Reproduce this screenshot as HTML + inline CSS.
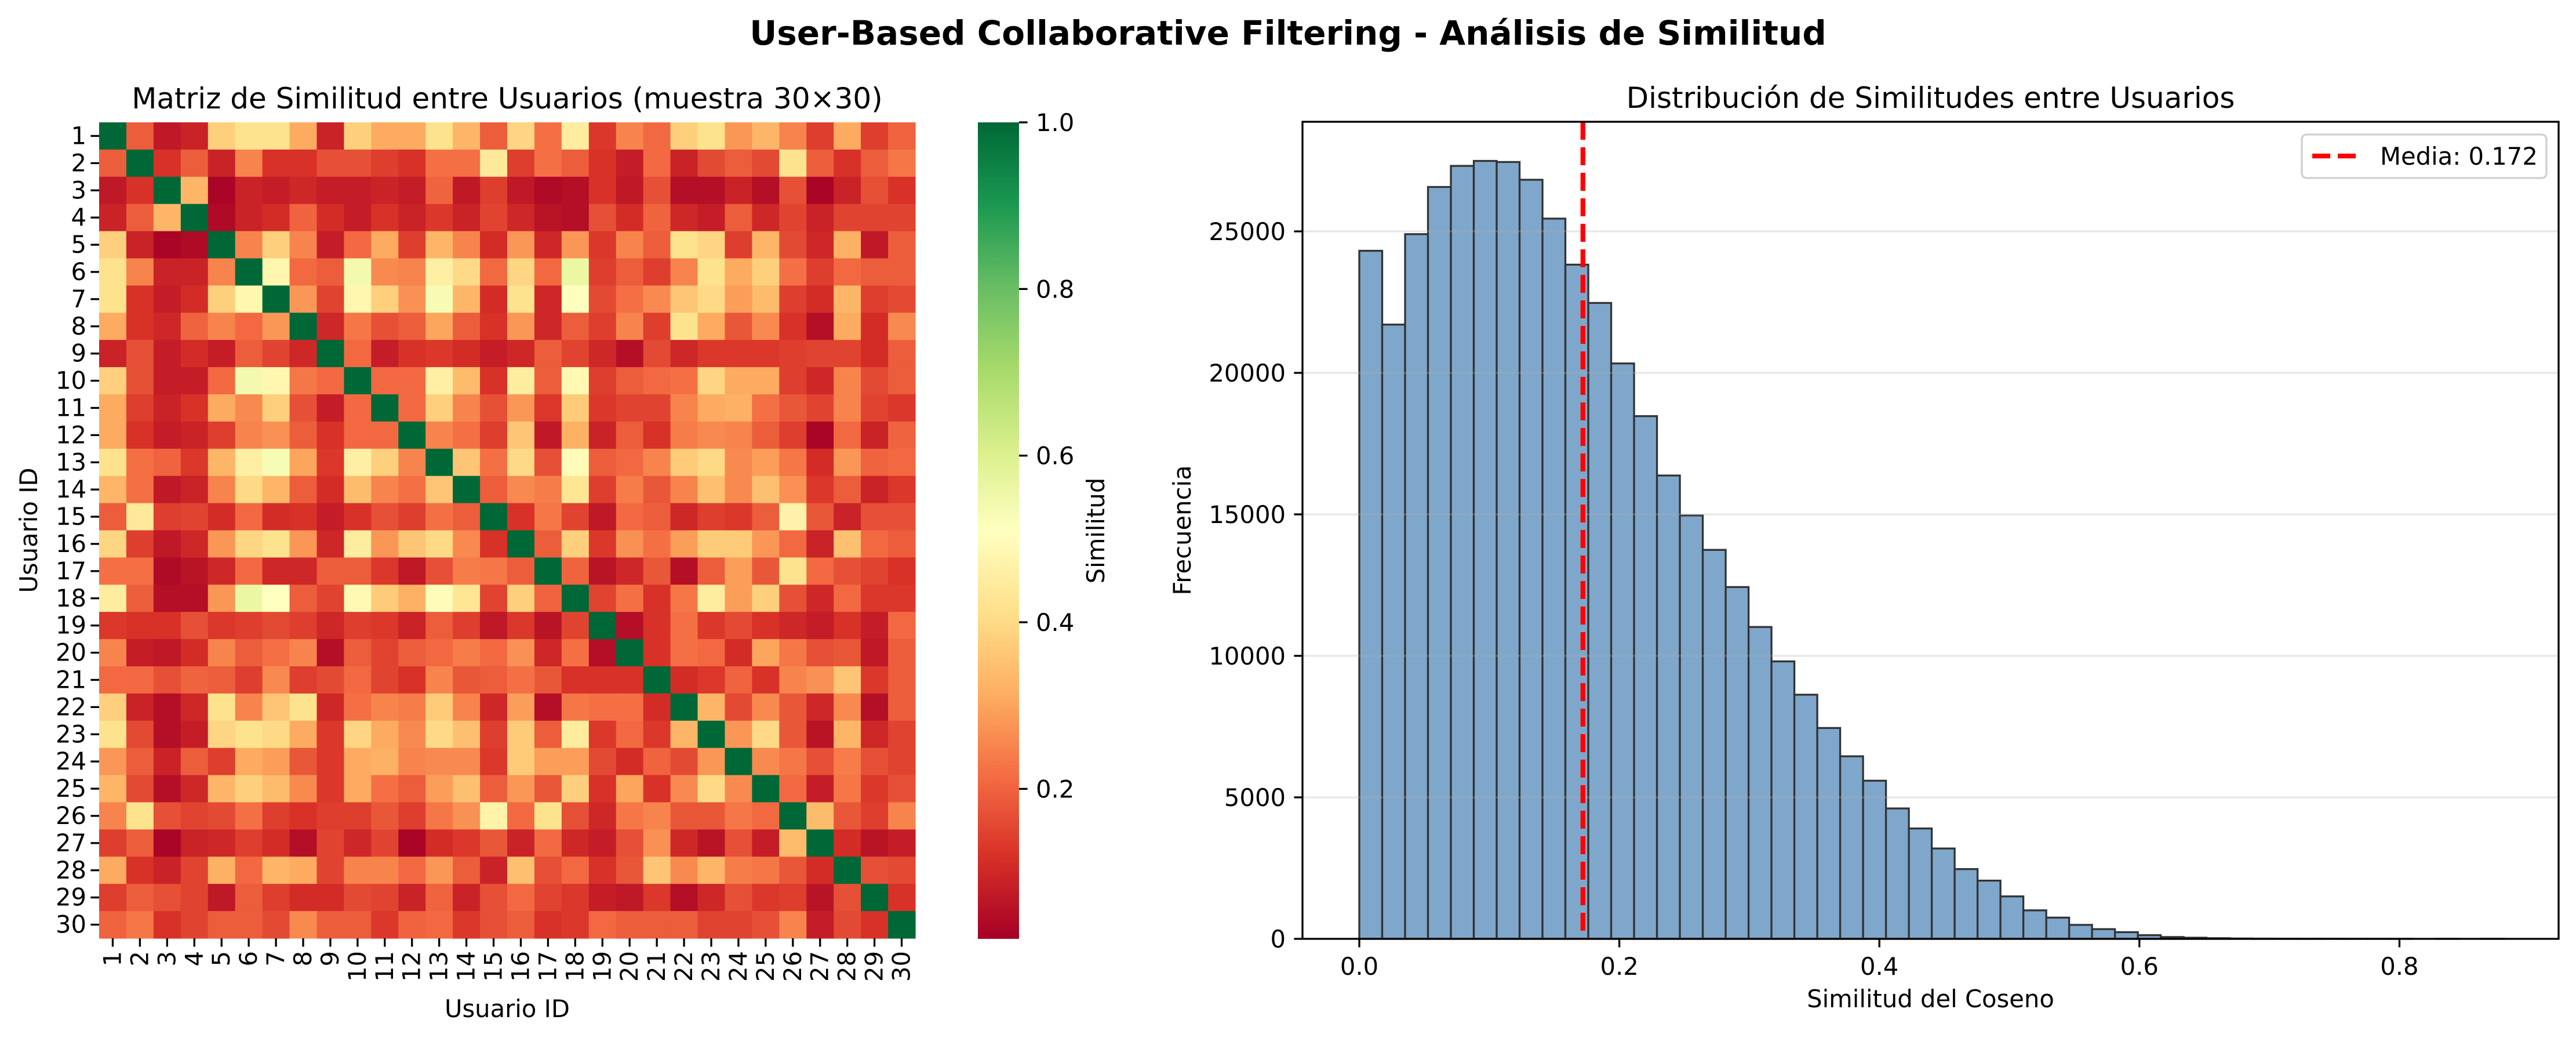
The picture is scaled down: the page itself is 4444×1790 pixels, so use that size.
<!DOCTYPE html>
<html><head><meta charset="utf-8"><style>
html,body{margin:0;padding:0;background:#fff;}
svg{display:block;font-family:"DejaVu Sans","Liberation Sans",sans-serif;}
</style></head><body>
<svg id="fig" width="4444" height="1790" viewBox="0 0 4444 1790" xmlns="http://www.w3.org/2000/svg">
<rect width="4444" height="1790" fill="#fff"/>
<text x="2222" y="77" text-anchor="middle" font-size="58" font-weight="bold">User-Based Collaborative Filtering - Análisis de Similitud</text>
<g id="heat"></g>
<g id="cbar"></g>
<g id="hist"></g>
</svg>
<script>
// ---------- Heatmap data (upper triangle, row i: columns i+1..30) ----------
const userLabels = ["1","2","3","4","5","6","7","8","9","10","11","12","13","14","15","16","17","18","19","20","21","22","23","24","25","26","27","28","29","30"];
const upper = [
[0.19,0.07,0.09,0.38,0.42,0.42,0.31,0.09,0.38,0.31,0.31,0.42,0.33,0.19,0.39,0.22,0.45,0.13,0.25,0.21,0.38,0.42,0.28,0.33,0.25,0.14,0.31,0.14,0.2],
[0.12,0.19,0.09,0.25,0.12,0.12,0.17,0.17,0.14,0.12,0.22,0.22,0.44,0.14,0.22,0.19,0.12,0.08,0.21,0.09,0.16,0.19,0.16,0.42,0.19,0.12,0.19,0.23],
[0.33,0.03,0.09,0.08,0.1,0.08,0.08,0.09,0.08,0.2,0.07,0.14,0.07,0.04,0.05,0.12,0.07,0.17,0.05,0.05,0.09,0.05,0.17,0.03,0.09,0.17,0.12],
[0.04,0.09,0.11,0.2,0.11,0.08,0.12,0.09,0.13,0.09,0.15,0.1,0.06,0.05,0.17,0.11,0.2,0.1,0.08,0.19,0.1,0.15,0.09,0.15,0.15,0.15],
[0.25,0.38,0.25,0.08,0.21,0.31,0.14,0.33,0.25,0.11,0.28,0.1,0.28,0.13,0.25,0.19,0.42,0.39,0.14,0.33,0.16,0.1,0.32,0.07,0.19],
[0.48,0.21,0.19,0.54,0.26,0.25,0.46,0.4,0.21,0.39,0.21,0.56,0.14,0.19,0.14,0.25,0.42,0.31,0.38,0.22,0.14,0.21,0.19,0.19],
[0.28,0.15,0.48,0.38,0.27,0.53,0.33,0.11,0.42,0.1,0.51,0.16,0.22,0.26,0.36,0.4,0.29,0.34,0.14,0.11,0.33,0.14,0.16],
[0.1,0.23,0.17,0.19,0.3,0.19,0.12,0.28,0.1,0.19,0.14,0.25,0.14,0.42,0.31,0.18,0.26,0.12,0.05,0.31,0.11,0.26],
[0.21,0.08,0.12,0.13,0.11,0.08,0.1,0.19,0.15,0.1,0.05,0.16,0.1,0.13,0.13,0.13,0.14,0.15,0.15,0.11,0.19],
[0.21,0.21,0.46,0.34,0.12,0.45,0.19,0.49,0.14,0.19,0.21,0.22,0.39,0.31,0.31,0.14,0.1,0.25,0.16,0.19],
[0.21,0.38,0.25,0.17,0.28,0.13,0.37,0.13,0.15,0.15,0.25,0.31,0.32,0.22,0.18,0.15,0.25,0.15,0.13],
[0.25,0.22,0.14,0.36,0.07,0.32,0.09,0.19,0.12,0.24,0.26,0.25,0.19,0.14,0.03,0.21,0.09,0.2],
[0.36,0.22,0.4,0.17,0.5,0.19,0.21,0.25,0.37,0.4,0.26,0.29,0.23,0.11,0.28,0.2,0.21],
[0.19,0.26,0.24,0.43,0.14,0.24,0.18,0.25,0.35,0.26,0.35,0.27,0.13,0.19,0.09,0.13],
[0.12,0.23,0.15,0.07,0.21,0.19,0.1,0.14,0.13,0.19,0.47,0.18,0.09,0.17,0.17],
[0.19,0.38,0.13,0.27,0.22,0.29,0.37,0.37,0.28,0.21,0.09,0.35,0.21,0.19],
[0.2,0.06,0.1,0.18,0.05,0.19,0.29,0.18,0.42,0.21,0.17,0.15,0.12],
[0.15,0.22,0.12,0.23,0.45,0.29,0.38,0.17,0.1,0.21,0.13,0.13],
[0.05,0.12,0.22,0.13,0.16,0.12,0.1,0.08,0.12,0.08,0.21],
[0.12,0.22,0.21,0.11,0.3,0.23,0.17,0.18,0.07,0.19],
[0.11,0.13,0.2,0.12,0.25,0.27,0.36,0.13,0.19],
[0.33,0.16,0.26,0.18,0.1,0.26,0.05,0.19],
[0.28,0.4,0.18,0.06,0.33,0.1,0.15],
[0.26,0.23,0.17,0.24,0.17,0.15],
[0.21,0.08,0.23,0.13,0.17],
[0.34,0.18,0.14,0.25],
[0.11,0.06,0.08],
[0.17,0.16],
[0.12]
];
const colorbarTicks = [0.2,0.4,0.6,0.8,1.0];

// ---------- Histogram data ----------
const binCounts = [24314,21706,24902,26569,27314,27490,27451,26824,25451,23824,22471,20333,18471,16373,14961,13745,12431,11020,9804,8627,7451,6451,5588,4608,3900,3193,2465,2057,1500,1007,750,493,343,236,129,64,40,22,12,7,4,3,2,1,1,1,0,1,0,1];
const binMin = 0.0, binMax = 0.8806;
const meanValue = 0.172;
const xTickValues = [0.0,0.2,0.4,0.6,0.8];
const xTickLabels = ["0.0","0.2","0.4","0.6","0.8"];
const yTickValues = [0,5000,10000,15000,20000,25000];
const yTickLabels = ["0","5000","10000","15000","20000","25000"];

const NS = "http://www.w3.org/2000/svg";
function mk(tag, attrs, parent, txt){
  const e = document.createElementNS(NS, tag);
  for (const k in attrs) e.setAttribute(k, attrs[k]);
  if (txt !== undefined) e.textContent = txt;
  parent.appendChild(e); return e;
}
// RdYlGn
const stops = ["#a50026","#d73027","#f46d43","#fdae61","#fee08b","#ffffbf","#d9ef8b","#a6d96a","#66bd63","#1a9850","#006837"];
function hex(c){return [parseInt(c.slice(1,3),16),parseInt(c.slice(3,5),16),parseInt(c.slice(5,7),16)];}
const VMIN = 0.02, VMAX = 1.0;
function cmap(v){
  let t = (v - VMIN) / (VMAX - VMIN); t = Math.max(0, Math.min(1, t));
  const p = t * 10, i = Math.min(9, Math.floor(p)), f = p - i;
  const a = hex(stops[i]), b = hex(stops[i+1]);
  return "rgb(" + a.map((x,k)=>Math.round(x + (b[k]-x)*f)).join(",") + ")";
}
// full matrix
const N = userLabels.length;
const M = [];
for (let i=0;i<N;i++){ M.push(new Array(N).fill(1)); }
for (let i=0;i<N-1;i++) for (let j=i+1;j<N;j++){ M[i][j] = upper[i][j-i-1]; M[j][i] = upper[i][j-i-1]; }

// ---------- Heatmap ----------
const heat = document.getElementById("heat");
const HX0 = 171, HX1 = 1579, HY0 = 211, HY1 = 1618;
const cw = (HX1-HX0)/N, ch = (HY1-HY0)/N;
const hx = j => HX0 + j*cw, hy = i => HY0 + i*ch;
mk("text",{x:(HX0+HX1)/2,y:187,"text-anchor":"middle","font-size":50,},heat,"Matriz de Similitud entre Usuarios (muestra 30×30)");
for (let i=0;i<N;i++) for (let j=0;j<N;j++){
  const r = mk("rect",{x:hx(j).toFixed(2),y:hy(i).toFixed(2),width:(cw+0.6).toFixed(2),height:(ch+0.6).toFixed(2),fill:cmap(M[i][j])},heat);
  
  
}
for (let k=0;k<N;k++){
  const yc = hy(k)+ch/2, xc = hx(k)+cw/2;
  mk("line",{x1:HX0-14.6,x2:HX0,y1:yc,y2:yc,stroke:"#000","stroke-width":3.3},heat);
  const yl = mk("text",{x:HX0-22,y:yc+14,"text-anchor":"end","font-size":41.7},heat,userLabels[k]);
  
  
  mk("line",{x1:xc,x2:xc,y1:HY1,y2:HY1+14.6,stroke:"#000","stroke-width":3.3},heat);
  const xl = mk("text",{x:0,y:0,"text-anchor":"end","font-size":41.7,transform:`translate(${xc+14},${HY1+22}) rotate(-90)`},heat,userLabels[k]);
  
  
}
mk("text",{x:(HX0+HX1)/2,y:1754,"text-anchor":"middle","font-size":41.7,},heat,"Usuario ID");
mk("text",{x:0,y:0,"text-anchor":"middle","font-size":41.7,transform:`translate(64,${(HY0+HY1)/2}) rotate(-90)`,},heat,"Usuario ID");

// ---------- Colorbar ----------
const cb = document.getElementById("cbar");
const CX0 = 1687, CX1 = 1758, CY0 = 211, CY1 = 1619;
const cy = v => CY1 - (v - VMIN)/(VMAX - VMIN)*(CY1-CY0);
const defs = mk("defs",{},cb);
const grad = mk("linearGradient",{id:"cg",x1:0,y1:1,x2:0,y2:0},defs);
stops.forEach((c,i)=>mk("stop",{offset:(i*10)+"%","stop-color":c},grad));
mk("rect",{x:CX0,y:CY0,width:CX1-CX0,height:CY1-CY0,fill:"url(#cg)",},cb);
colorbarTicks.forEach(v=>{
  const y = cy(v);
  mk("line",{x1:CX1,x2:CX1+14.6,y1:y,y2:y,stroke:"#000","stroke-width":3.3},cb);
  const t = mk("text",{x:CX1+29,y:y+15,"font-size":41.7},cb,v.toFixed(1));
  
  
});
mk("text",{x:0,y:0,"text-anchor":"middle","font-size":41.7,transform:`translate(1905,${(CY0+CY1)/2}) rotate(-90)`,},cb,"Similitud");

// ---------- Histogram ----------
const hist = document.getElementById("hist");
const AX0 = 2247, AX1 = 4414, AY0 = 210, AY1 = 1619;
const xs = v => 2345 + v*2243;
const ys = v => AY1 - v*0.0488;
mk("text",{x:(AX0+AX1)/2,y:186,"text-anchor":"middle","font-size":50,},hist,"Distribución de Similitudes entre Usuarios");
const bw = (binMax - binMin)/binCounts.length;
binCounts.forEach((c,i)=>{
  const x0 = xs(binMin + i*bw), x1 = xs(binMin + (i+1)*bw);
  const b = mk("rect",{x:x0.toFixed(2),y:ys(c).toFixed(2),width:(x1-x0).toFixed(2),height:(AY1-ys(c)).toFixed(2),fill:"#7fa7cb",stroke:"#333","stroke-width":3.3},hist);
  
  
});
yTickValues.forEach((v,i)=>{
  const y = ys(v);
  if (v>0) mk("line",{x1:AX0,x2:AX1,y1:y,y2:y,stroke:"#b0b0b0","stroke-opacity":0.3,"stroke-width":3.3},hist);
  mk("line",{x1:AX0-14.6,x2:AX0,y1:y,y2:y,stroke:"#000","stroke-width":3.3},hist);
  const t = mk("text",{x:AX0-29,y:y+15,"text-anchor":"end","font-size":41.7},hist,yTickLabels[i]);
  
  
});
xTickValues.forEach((v,i)=>{
  const x = xs(v);
  mk("line",{x1:x,x2:x,y1:AY1,y2:AY1+14.6,stroke:"#000","stroke-width":3.3},hist);
  const t = mk("text",{x:x,y:AY1+62,"text-anchor":"middle","font-size":41.7},hist,xTickLabels[i]);
  
  
});
mk("line",{x1:xs(meanValue),x2:xs(meanValue),y1:AY0,y2:AY1,stroke:"#ff0000","stroke-width":8.3,"stroke-dasharray":"31 13",},hist);
mk("rect",{x:AX0,y:AY0,width:AX1-AX0,height:AY1-AY0,fill:"none",stroke:"#000","stroke-width":3.3,},hist);
mk("text",{x:(AX0+AX1)/2,y:1737,"text-anchor":"middle","font-size":41.7,},hist,"Similitud del Coseno");
mk("text",{x:0,y:0,"text-anchor":"middle","font-size":41.7,transform:`translate(2054,${(AY0+AY1)/2}) rotate(-90)`,},hist,"Frecuencia");
const lg = mk("g",{},hist);
mk("rect",{x:3971,y:232,width:422,height:75,rx:8,fill:"#fff","fill-opacity":0.8,stroke:"#d0d0d0","stroke-width":3.3},lg);
mk("line",{x1:3989,x2:4064,y1:269,y2:269,stroke:"#ff0000","stroke-width":8.3,"stroke-dasharray":"31 13"},lg);
mk("text",{x:4106,y:284,"font-size":41.7,},lg,"Media: "+meanValue.toFixed(3));
</script>
</body></html>
